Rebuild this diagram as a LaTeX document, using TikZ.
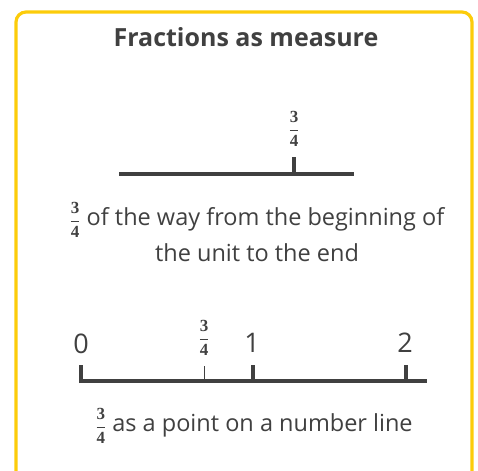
\documentclass[tikz,border=0pt]{standalone}
\usepackage{amsmath}
\usepackage{fontspec}
\setmainfont{Open Sans}
\newfontfamily\fracfont{Liberation Serif}
\definecolor{ink}{RGB}{64,64,64}
\definecolor{frameyellow}{RGB}{252,204,10}
\newcommand{\tq}[1][17]{{\fontsize{#1}{#1}\selectfont$\genfrac{}{}{0.8pt}{0}{\hbox{\fracfont\bfseries 3}}{\hbox{\fracfont\bfseries 4}}$}}
\begin{document}
\begin{tikzpicture}[x=1pt,y=-1pt,
  txt/.style={text=ink,inner sep=0pt,font=\fontsize{23.5}{36}\selectfont},
  bar/.style={draw=ink,line width=4pt},
  thick tick/.style={draw=ink,line width=4pt},
  thin tick/.style={draw=ink,line width=1pt},
  frac/.style={text=ink,inner sep=0pt},
  numlab/.style={text=ink,inner sep=0pt,font=\fontsize{27}{30}\selectfont}]
\useasboundingbox (0,0) rectangle (478,470);
\draw[frameyellow,line width=3.2pt,rounded corners=10pt] (16,480) -- (16,12) -- (472,12) -- (472,480);
\node[txt,font=\fontsize{25}{30}\selectfont\bfseries] (title) at (246,37) {Fractions as measure};
% top unit
\coordinate (ua) at (119,174);
\coordinate (ub) at (354,174);
\coordinate (ut) at (294,174);
\coordinate (uttop) at (294,157);
\draw[bar] (ua) -- (ub);
\draw[thick tick] (ut) -- (uttop);
\node[frac] (f1) at (294,129) {\tq};
\node[txt,align=center] (cap1) at (257,232) {\tq\ of the way from the beginning of\\the unit to the end};
% number line
\coordinate (na) at (79,381);
\coordinate (nb) at (427,381);
\draw[bar] (na) -- (nb);
\coordinate (t0) at (81,383);  \coordinate (t0t) at (81,365);
\coordinate (t34) at (204,381); \coordinate (t34t) at (204,366);
\coordinate (t1) at (253,381); \coordinate (t1t) at (253,365);
\coordinate (t2) at (406,381); \coordinate (t2t) at (406,365);
\draw[thick tick] (t0) -- (t0t);
\draw[thin tick] (t34) -- (t34t);
\draw[thick tick] (t1) -- (t1t);
\draw[thick tick] (t2) -- (t2t);
\node[numlab] (l0) at (81,344) {0};
\node[numlab] (l1) at (252,343) {1};
\node[numlab] (l2) at (405,343) {2};
\node[frac] (f2) at (204,338) {\tq};
\node[txt] (cap2) at (254,426) {\tq\ as a point on a number line};
\end{tikzpicture}
\end{document}
